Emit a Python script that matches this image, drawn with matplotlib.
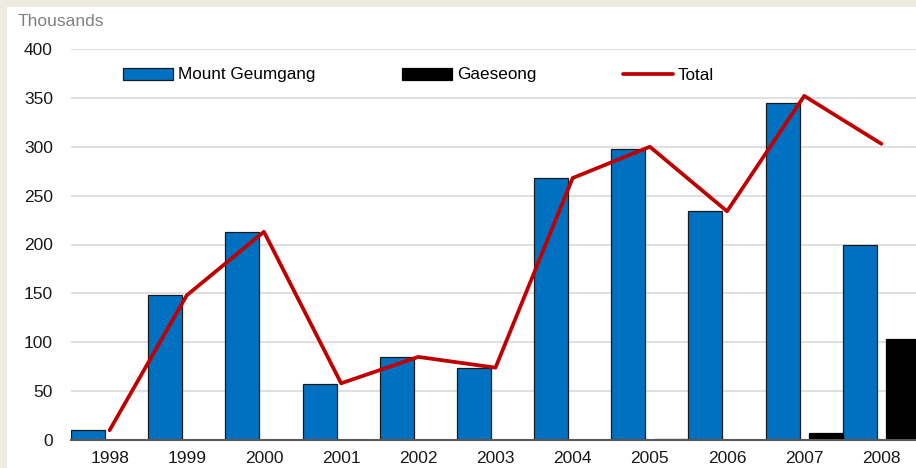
import matplotlib as mpl
mpl.use('Agg')
import matplotlib.pyplot as plt
import numpy as np

plt.rcParams['font.family'] = ['Liberation Sans', 'DejaVu Sans']

years = [1998, 1999, 2000, 2001, 2002, 2003, 2004, 2005, 2006, 2007, 2008]
geumgang = [10, 148, 213, 57, 85, 74, 268, 298, 234, 345, 200]
gaeseong = [0, 0, 0, 0, 0, 0, 0, 1.5, 0, 7, 103]
total = [10, 148, 213, 58, 85, 74, 268, 300, 234, 352, 303]
yticks = [0, 50, 100, 150, 200, 250, 300, 350, 400]

W, H = 916, 468
fig = plt.figure(figsize=(W / 100, H / 100), dpi=100)
fig.patch.set_facecolor('#eeece1')

# white panel behind the chart
bg = fig.add_axes([7 / W, 0, 1, 1 - 7 / H], zorder=0)
bg.set_axis_off()
bg.add_patch(plt.Rectangle((0, 0), 1, 1, transform=bg.transAxes,
                           facecolor='white', edgecolor='none'))

ax = fig.add_axes([71 / W, 28 / H, 849 / W, 391 / H], zorder=1)
ax.set_facecolor('none')

x = np.arange(len(years))
bw = 0.44
off = 0.28
b1 = ax.bar(x - off, geumgang, bw, color='#0070c0', edgecolor='#1a1a1a', linewidth=0.9,
            label='Mount Geumgang', zorder=2)
b2 = ax.bar(x + off, gaeseong, bw, color='#000000', edgecolor='#000000', linewidth=0.9,
            label='Gaeseong', zorder=2)
l1, = ax.plot(x, total, color='#c00000', linewidth=2.7, label='Total', zorder=3,
              solid_capstyle='round')

ax.set_xlim(-0.5, len(years) - 0.5)
ax.set_ylim(0, 400)
ax.set_yticks(yticks)
ax.set_xticks(x)
ax.set_xticklabels([str(y) for y in years])
ax.tick_params(axis='both', length=0, labelsize=12.5, colors='#1a1a1a')
ax.tick_params(axis='y', pad=13)
ax.tick_params(axis='x', pad=8)
ax.grid(axis='y', color='#e0e0e0', linewidth=1.4, zorder=0)
ax.set_axisbelow(True)
for s in ['left', 'right', 'top']:
    ax.spines[s].set_visible(False)
ax.spines['bottom'].set_color('#595959')
ax.spines['bottom'].set_linewidth(1.5)
ax.spines['bottom'].set_zorder(4)

fig.text(18 / W, 1 - 22 / H, 'Thousands', fontsize=12.5, color='#808080',
         va='center', ha='left', zorder=5)

leg = ax.legend([b1, b2, l1], ['Mount Geumgang', 'Gaeseong', 'Total'],
                loc='center left', bbox_to_anchor=(123 / W, 1 - 75 / H),
                bbox_transform=fig.transFigure, ncol=3, frameon=False, fontsize=12.3,
                handlelength=2.9, handletextpad=0.3, columnspacing=5.1,
                borderpad=0, borderaxespad=0)

fig.savefig('out.png', dpi=100, facecolor=fig.get_facecolor())
